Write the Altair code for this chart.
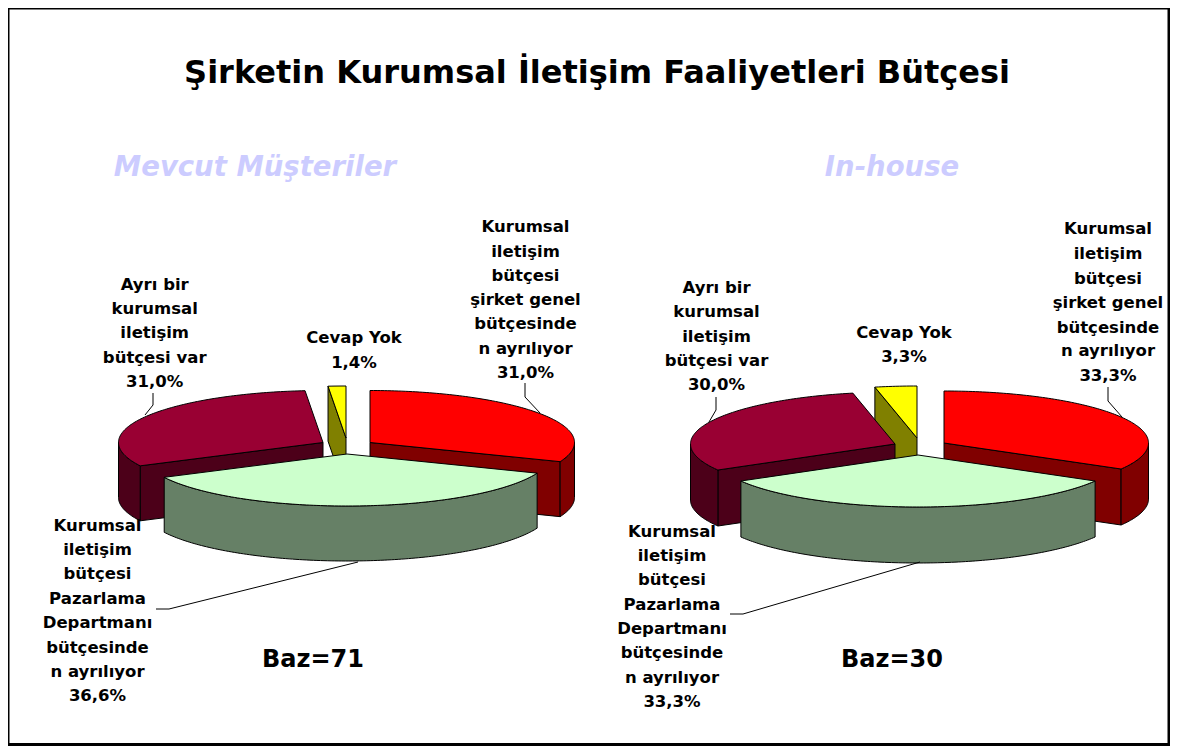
import math
import altair as alt
import pandas as pd

TITLE = "Şirketin Kurumsal İletişim Faaliyetleri Bütçesi"
SUBTITLES = ["Mevcut Müşteriler", "In-house"]
BASES = ["Baz=71", "Baz=30"]
SHARES_LEFT = [31.0, 36.6, 31.0, 1.4]
SHARES_RIGHT = [33.3, 33.3, 30.0, 3.3]
TOP_COLORS = ["#FF0000", "#CCFFCC", "#990033", "#FFFF00"]
SIDE_COLORS = ["#800000", "#668066", "#4C0019", "#808000"]
LABELS_A = ["Kurumsal\niletişim\nbütçesi\nşirket genel\nbütçesinde\nn ayrılıyor",
            "Kurumsal\niletişim\nbütçesi\nPazarlama\nDepartmanı\nbütçesinde\nn ayrılıyor",
            "Ayrı bir\nkurumsal\niletişim\nbütçesi var",
            "Cevap Yok"]

# layout (page pixels)
L_CENTERS = [(370, 442.5), (347, 454), (323, 442.5), (346, 438)]
R_CENTERS = [(944, 443), (918, 455), (895, 444), (917, 438)]
RX, RY = 204.5, 52
L_DEPTH, R_DEPTH = 55, 56
WIDTH, HEIGHT = 1162, 738
FONT = "DejaVu Sans"

xs = alt.Scale(domain=[8, 8 + WIDTH], range=[0, WIDTH], nice=False, zero=False)
ys = alt.Scale(domain=[8, 8 + HEIGHT], range=[0, HEIGHT], nice=False, zero=False)
X = lambda f="x": alt.X(f"{f}:Q", scale=xs, axis=None)
Y = lambda f="y": alt.Y(f"{f}:Q", scale=ys, axis=None)


def rim(c, deg):
    a = math.radians(deg)
    return (c[0] + RX * math.sin(a), c[1] - RY * math.cos(a))


def arc(c, a0, a1):
    n = max(2, int(abs(a1 - a0)) + 1)
    return [rim(c, a0 + (a1 - a0) * i / n) for i in range(n + 1)]


def poly(points, fill):
    df = pd.DataFrame(points, columns=["x", "y"])
    df["i"] = range(len(df))
    return alt.Chart(df).mark_line(
        fill=fill, stroke="#000000", strokeWidth=1, interpolate="linear-closed"
    ).encode(x=X(), y=Y(), order=alt.Order("i:Q"))


def down(points, d):
    return [(x, y + d) for x, y in points]


def pie(shares, centers, depth):
    total = sum(shares)
    edges = [0]
    for s in shares:
        edges.append(edges[-1] + s / total * 360)
    ang = list(zip(edges[:-1], edges[1:]))
    out = []
    # yellow (back): cut face, then top
    c = centers[3]; a0, a1 = ang[3]
    p = rim(c, a0)
    out.append(poly([p, c, (c[0], c[1] + depth), (p[0], p[1] + depth)], SIDE_COLORS[3]))
    out.append(poly([c] + arc(c, a0, a1), TOP_COLORS[3]))
    # purple
    c = centers[2]; a0, a1 = ang[2]
    p = rim(c, a0)
    out.append(poly([p, c, (c[0], c[1] + depth), (p[0], p[1] + depth)], SIDE_COLORS[2]))
    r = arc(c, a0, 270)
    out.append(poly(r + down(r, depth)[::-1], SIDE_COLORS[2]))
    out.append(poly([c] + arc(c, a0, a1), TOP_COLORS[2]))
    # red
    c = centers[0]; a0, a1 = ang[0]
    p = rim(c, a1)
    out.append(poly([p, c, (c[0], c[1] + depth), (p[0], p[1] + depth)], SIDE_COLORS[0]))
    r = arc(c, 90, a1)
    out.append(poly(r + down(r, depth)[::-1], SIDE_COLORS[0]))
    out.append(poly([c] + arc(c, a0, a1), TOP_COLORS[0]))
    # green (front)
    c = centers[1]; a0, a1 = ang[1]
    r = arc(c, a0, a1)
    out.append(poly(r + down(r, depth)[::-1], SIDE_COLORS[1]))
    out.append(poly([c] + r, TOP_COLORS[1]))
    return out


def pct(v):
    return f"{v:.1f}%".replace(".", ",")


def leader(points):
    df = pd.DataFrame(points, columns=["x", "y"])
    df["i"] = range(len(df))
    return alt.Chart(df).mark_line(stroke="#000000", strokeWidth=1).encode(
        x=X(), y=Y(), order=alt.Order("i:Q"))


def text_layer(rows, size, weight="bold", color="#000000", style="normal", font=FONT):
    df = pd.DataFrame(rows, columns=["t", "x", "y"])
    return alt.Chart(df).mark_text(
        font=font, fontSize=size, fontWeight=weight, color=color, fontStyle=style,
        align="center", baseline="alphabetic"
    ).encode(x=X(), y=Y(), text="t:N")


def label_rows(text, value, x, ys_):
    lines = (text + "\n" + pct(value)).split("\n")
    return [(t, x, y) for t, y in zip(lines, ys_)]


border = alt.Chart(pd.DataFrame({"x": [8], "x2": [1169], "y": [8], "y2": [744.5]})).mark_rect(
    fill="#FFFFFF", stroke="#000000", strokeWidth=3
).encode(x=X(), x2="x2:Q", y=Y(), y2="y2:Q")

rows = []
rows += label_rows(LABELS_A[0], SHARES_LEFT[0], 525.5, [231.7, 256.5, 281, 305, 329, 354, 378])
rows += label_rows(LABELS_A[1], SHARES_LEFT[1], 97.5, [530.7, 555, 579, 604, 628, 653, 677, 700.7])
rows += label_rows(LABELS_A[2], SHARES_LEFT[2], 154.7, [290, 314, 338, 362.7, 386.7])
rows += label_rows(LABELS_A[3], SHARES_LEFT[3], 354, [343, 368])
rows += label_rows(LABELS_A[0], SHARES_RIGHT[0], 1108, [234, 258.5, 284, 308, 332.5, 356, 380.7])
rows += label_rows(LABELS_A[1], SHARES_RIGHT[1], 672, [536.7, 561, 585, 610, 634, 658, 682.7, 706.7])
rows += label_rows(LABELS_A[2], SHARES_RIGHT[2], 716.5, [293, 317, 341.7, 366, 390])
rows += label_rows(LABELS_A[3], SHARES_RIGHT[3], 904, [338, 362])

layers = [border]
layers += pie(SHARES_LEFT, L_CENTERS, L_DEPTH)
layers += pie(SHARES_RIGHT, R_CENTERS, R_DEPTH)
layers += [
    leader([(525, 383), (525, 397), (540, 413)]),
    leader([(153, 393), (153, 405), (145, 415)]),
    leader([(156, 609), (169, 609), (358, 562)]),
    leader([(1108, 387), (1108, 401), (1122, 417)]),
    leader([(716, 397), (716, 410), (709, 422)]),
    leader([(730, 614), (743, 614), (920, 562)]),
    text_layer(rows, 16.5),
    text_layer([(TITLE, 597, 82.7)], 32),
    text_layer([(SUBTITLES[0], 255, 176), (SUBTITLES[1], 892, 176)], 27.5, color="#CCCCFF",
               style="italic"),
    text_layer([(BASES[0], 313, 666.7), (BASES[1], 892, 666.7)], 24),
]

chart = alt.layer(*layers).properties(
    width=WIDTH, height=HEIGHT, padding=0,
    autosize=alt.AutoSizeParams(type="none"),
).configure_view(stroke=None).configure(background="#FFFFFF")

chart.save("out.html", embed_options={"renderer": "svg", "actions": False})
